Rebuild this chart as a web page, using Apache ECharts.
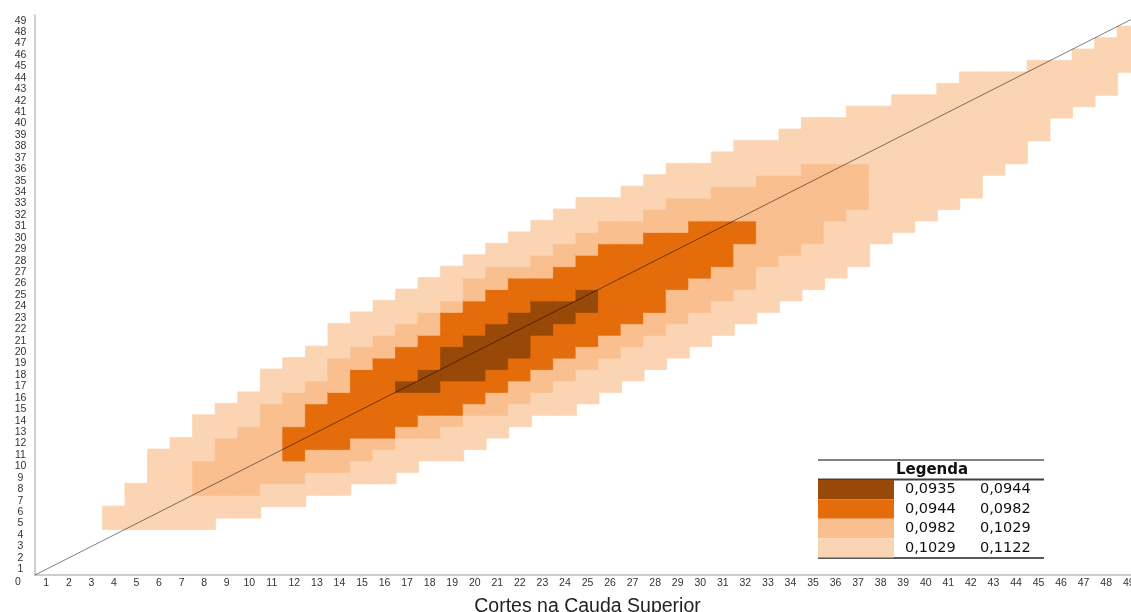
<!DOCTYPE html>
<html>
<head>
<meta charset="utf-8">
<style>
html, body {
  margin: 0;
  padding: 0;
  background-color: #FFF;
}
#chart {
  width: 1131px;
  height: 612px;
}
</style>
<script src="https://cdn.jsdelivr.net/npm/echarts@6.0.0/dist/echarts.min.js"></script>
</head>
<body>
<div id="chart"></div>
<script>
// tick labels
const xLabels = ['1', '2', '3', '4', '5', '6', '7', '8', '9', '10', '11', '12', '13', '14', '15', '16', '17', '18', '19', '20', '21', '22', '23', '24', '25', '26', '27', '28', '29', '30', '31', '32', '33', '34', '35', '36', '37', '38', '39', '40', '41', '42', '43', '44', '45', '46', '47', '48', '49']
const yLabels = ['1', '2', '3', '4', '5', '6', '7', '8', '9', '10', '11', '12', '13', '14', '15', '16', '17', '18', '19', '20', '21', '22', '23', '24', '25', '26', '27', '28', '29', '30', '31', '32', '33', '34', '35', '36', '37', '38', '39', '40', '41', '42', '43', '44', '45', '46', '47', '48', '49']
const xTitle = 'Cortes na Cauda Superior'

// legend classes (bin edges, colours, labels)
const binLow = [0.0935, 0.0944, 0.0982, 0.1029]
const binHigh = [0.0944, 0.0982, 0.1029, 0.1122]
const binText = [['0,0935', '0,0944'], ['0,0944', '0,0982'], ['0,0982', '0,1029'], ['0,1029', '0,1122']]
const binColors = ['#984807', '#E46C0A', '#FABF8F', '#FBD4B4']
// value given to the cells of each class (dark, orange, light, palest)
const binValue = [0.0940, 0.0963, 0.1005, 0.1075]

// cells read per column (x = cut on the upper tail): lowest / highest row of each class
const bandCols = [4, 5, 6, 7, 8, 9, 10, 11, 12, 13, 14, 15, 16, 17, 18, 19, 20, 21, 22, 23, 24, 25, 26, 27, 28, 29, 30, 31, 32, 33, 34, 35, 36, 37, 38, 39, 40, 41, 42, 43, 44, 45, 46, 47, 48, 49]
const palestLo = [5, 5, 5, 5, 5, 6, 6, 7, 7, 8, 8, 9, 9, 10, 11, 11, 12, 13, 14, 15, 15, 16, 17, 18, 19, 20, 21, 22, 23, 24, 25, 26, 27, 28, 30, 31, 32, 33, 34, 36, 37, 39, 41, 42, 43, 45]
const palestHi = [6, 8, 11, 12, 14, 15, 16, 18, 19, 20, 22, 23, 24, 25, 26, 27, 28, 29, 30, 31, 32, 33, 33, 34, 35, 36, 36, 37, 38, 38, 39, 40, 40, 41, 41, 42, 42, 43, 44, 44, 44, 45, 45, 46, 47, 48]
const lightLo = [null, null, null, null, 8, 8, 8, 9, 9, 10, 10, 11, 12, 13, 13, 14, 15, 15, 16, 17, 18, 19, 20, 21, 22, 23, 24, 25, 26, 28, 29, 30, 32, 33]
const lightHi = [null, null, null, null, 10, 12, 13, 15, 16, 17, 19, 20, 21, 22, 23, 24, 26, 27, 27, 28, 29, 30, 31, 31, 32, 33, 33, 34, 34, 35, 35, 36, 36, 36]
const orangeLo = [null, null, null, null, null, null, null, null, 11, 12, 12, 13, 13, 14, 15, 15, 16, 17, 18, 19, 20, 21, 22, 23, 24, 26, 27, 28, 30]
const orangeHi = [null, null, null, null, null, null, null, null, 13, 15, 16, 18, 19, 20, 21, 23, 24, 25, 26, 26, 27, 28, 29, 29, 30, 30, 31, 31, 31]
const darkLo = [null, null, null, null, null, null, null, null, null, null, null, null, null, 17, 17, 18, 18, 19, 20, 22, 23, 24]
const darkHi = [null, null, null, null, null, null, null, null, null, null, null, null, null, 17, 18, 20, 21, 22, 23, 24, 24, 25]

// 45 degree reference line, from corner to corner
const refLine = [[0, 0], [49, 49]]

function inRange (lo, hi, i, row) {
  return lo[i] != null && row >= lo[i] && row <= hi[i]
}

const cells = []
bandCols.forEach((col, i) => {
  for (let row = palestLo[i]; row <= palestHi[i]; row++) {
    let level = 3
    if (inRange(darkLo, darkHi, i, row)) level = 0
    else if (inRange(orangeLo, orangeHi, i, row)) level = 1
    else if (inRange(lightLo, lightHi, i, row)) level = 2
    // border in the cell colour hides the hairline seams between cells
    cells.push({
      value: [col - 1, row - 1, binValue[level]],
      itemStyle: { borderColor: binColors[level], borderWidth: 0.8 }
    })
  }
})

const chart = echarts.init(document.getElementById('chart'))

const labelFont = {
  fontFamily: 'Liberation Sans',
  fontSize: 10.5,
  color: '#333333'
}

const option = {
  animation: false,
  backgroundColor: '#FFFFFF',
  grid: {
    left: 35,
    top: 15,
    width: 1105,
    height: 560,
    outerBoundsMode: 'none',
    containLabel: false
  },
  xAxis: [
    {
      type: 'category',
      data: xLabels,
      axisLine: { lineStyle: { color: '#BFBFBF', width: 1.5 } },
      axisTick: { show: false },
      splitLine: { show: false },
      axisLabel: Object.assign({ interval: 0, margin: 3 }, labelFont),
      name: xTitle,
      nameLocation: 'middle',
      nameGap: 22,
      nameTextStyle: {
        fontFamily: 'Liberation Sans',
        fontSize: 19.5,
        color: '#222222'
      }
    },
    { type: 'value', min: 0, max: 49, show: false }
  ],
  yAxis: [
    {
      type: 'category',
      data: yLabels,
      axisLine: { lineStyle: { color: '#BFBFBF', width: 1.5 } },
      axisTick: { show: false },
      splitLine: { show: false },
      axisLabel: Object.assign({ interval: 0, margin: 14.5, align: 'center' }, labelFont)
    },
    { type: 'value', min: 0, max: 49, show: false }
  ],
  visualMap: {
    type: 'piecewise',
    seriesIndex: 0,
    orient: 'vertical',
    inverse: true,
    align: 'left',
    left: 818,
    top: 480,
    padding: 0,
    itemWidth: 76,
    itemHeight: 19.4,
    itemGap: 0,
    itemSymbol: 'rect',
    textGap: 11,
    selectedMode: false,
    pieces: binLow.map((lo, i) => ({
      gte: lo,
      lt: binHigh[i],
      color: binColors[i],
      label: `{a|${binText[i][0]}}{b|${binText[i][1]}}`
    })),
    textStyle: {
      color: '#111111',
      fontFamily: 'DejaVu Sans',
      fontSize: 14.5,
      rich: {
        a: { width: 75, fontFamily: 'DejaVu Sans', fontSize: 14.5, color: '#111111' },
        b: { fontFamily: 'DejaVu Sans', fontSize: 14.5, color: '#111111' }
      }
    }
  },
  graphic: [
    { type: 'text', left: 15, top: 577, style: { text: '0', font: '10.5px "Liberation Sans"', fill: '#333333' } },
    { type: 'line', shape: { x1: 818, y1: 460, x2: 1044, y2: 460 }, style: { stroke: '#595959', lineWidth: 1.5 } },
    { type: 'text', x: 932, y: 470, style: { text: 'Legenda', font: 'bold 15px "DejaVu Sans"', fill: '#111111', align: 'center', verticalAlign: 'middle' } },
    { type: 'line', shape: { x1: 818, y1: 479.5, x2: 1044, y2: 479.5 }, style: { stroke: '#404040', lineWidth: 2 } },
    { type: 'line', shape: { x1: 818, y1: 558, x2: 1044, y2: 558 }, style: { stroke: '#595959', lineWidth: 2 } }
  ],
  series: [
    {
      type: 'heatmap',
      data: cells,
      emphasis: { disabled: true },
      silent: true
    },
    {
      type: 'line',
      xAxisIndex: 1,
      yAxisIndex: 1,
      data: refLine,
      symbol: 'none',
      silent: true,
      z: 5,
      lineStyle: { color: 'rgba(0, 0, 0, 0.5)', width: 1 }
    }
  ]
}

chart.setOption(option)
</script>
</body>
</html>
